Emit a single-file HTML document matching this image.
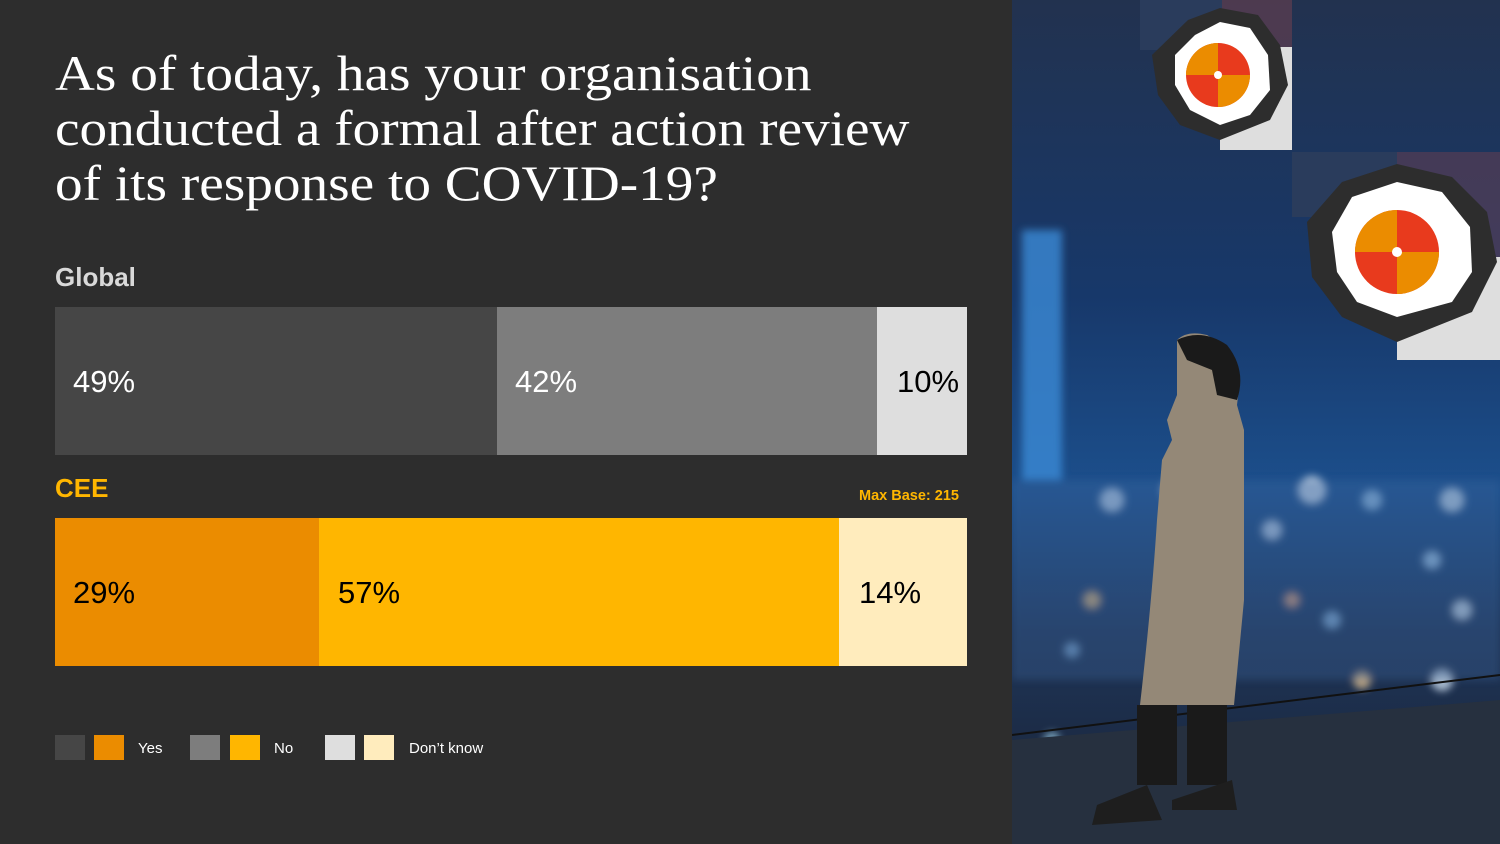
<!DOCTYPE html>
<html><head><style>
body{margin:0;width:1500px;height:844px;background:#2d2d2d;position:relative;overflow:hidden;font-family:"Liberation Sans",sans-serif}
.a{position:absolute}
h1{position:absolute;left:55px;top:46px;margin:0;font-family:"Liberation Serif",serif;font-weight:normal;font-size:50px;line-height:55px;color:#fff;transform:scaleX(1.105);transform-origin:0 0;white-space:nowrap}
.lbl{font-size:31px;color:#fff;line-height:150px}
.lg{width:30px;height:25px;top:735px}
.lt{top:740px;font-size:15px;color:#fff}
</style></head><body>
<h1>As of today, has your organisation<br>conducted a formal after action review<br>of its response to COVID-19?</h1>
<div class="a" style="left:55px;top:262px;font-size:26px;font-weight:bold;color:#d9d9d9">Global</div>
<div class="a" style="left:55px;top:307px;width:442px;height:148px;background:#464646"><span class="a lbl" style="left:18px">49%</span></div>
<div class="a" style="left:497px;top:307px;width:380px;height:148px;background:#7d7d7d"><span class="a lbl" style="left:18px">42%</span></div>
<div class="a" style="left:877px;top:307px;width:90px;height:148px;background:#dedede"><span class="a lbl" style="left:20px;color:#000">10%</span></div>
<div class="a" style="left:55px;top:473px;font-size:26px;font-weight:bold;color:#ffb600">CEE</div>
<div class="a" style="left:859px;top:488px;font-size:14.5px;font-weight:bold;color:#ffb600">Max Base: 215</div>
<div class="a" style="left:55px;top:518px;width:264px;height:148px;background:#eb8c00"><span class="a lbl" style="left:18px;color:#000">29%</span></div>
<div class="a" style="left:319px;top:518px;width:520px;height:148px;background:#ffb600"><span class="a lbl" style="left:19px;color:#000">57%</span></div>
<div class="a" style="left:839px;top:518px;width:128px;height:148px;background:#ffecbd"><span class="a lbl" style="left:20px;color:#000">14%</span></div>
<div class="a lg" style="left:55px;background:#464646"></div>
<div class="a lg" style="left:94px;background:#eb8c00"></div>
<div class="a lt" style="left:138px">Yes</div>
<div class="a lg" style="left:190px;background:#7d7d7d"></div>
<div class="a lg" style="left:230px;background:#ffb600"></div>
<div class="a lt" style="left:274px">No</div>
<div class="a lg" style="left:325px;background:#dedede"></div>
<div class="a lg" style="left:364px;background:#ffecbd"></div>
<div class="a lt" style="left:409px">Don’t know</div>

<svg class="a" style="left:1012px;top:0" width="488" height="844" viewBox="0 0 488 844">
<defs>
<linearGradient id="sky" x1="0" y1="0" x2="0" y2="1">
<stop offset="0" stop-color="#22324f"/><stop offset="0.35" stop-color="#17386a"/><stop offset="0.58" stop-color="#1c4f8c"/><stop offset="0.75" stop-color="#1e3558"/><stop offset="1" stop-color="#1a2234"/></linearGradient>
<filter id="bl"><feGaussianBlur stdDeviation="4"/></filter>
</defs>
<rect width="488" height="844" fill="url(#sky)"/>
<g filter="url(#bl)" opacity="0.8">
<rect x="10" y="230" width="40" height="250" fill="#3a8ad6"/>
<circle cx="100" cy="500" r="12" fill="#c9d9ee"/><circle cx="160" cy="490" r="10" fill="#d7e6f5"/><circle cx="300" cy="490" r="14" fill="#dce7f3"/>
<circle cx="360" cy="500" r="10" fill="#9ec5e9"/><circle cx="440" cy="500" r="12" fill="#d0dff0"/><circle cx="260" cy="530" r="10" fill="#c8d7ee"/>
<circle cx="420" cy="560" r="9" fill="#aacff0"/><circle cx="320" cy="620" r="9" fill="#8cb6e0"/><circle cx="450" cy="610" r="10" fill="#d6e3f2"/>
<circle cx="80" cy="600" r="9" fill="#e7b878"/><circle cx="280" cy="600" r="8" fill="#e6a27a"/><circle cx="60" cy="650" r="8" fill="#7fa9d4"/>
<circle cx="350" cy="680" r="9" fill="#e0c090"/><circle cx="430" cy="680" r="11" fill="#d0e1f2"/><circle cx="40" cy="740" r="8" fill="#90c0d8"/>
<rect x="0" y="480" width="488" height="200" fill="#3f6a9e" opacity="0.4"/>
</g>
<polygon points="0,740 488,700 488,844 0,844" fill="#26303f"/>
<line x1="0" y1="735" x2="488" y2="675" stroke="#111" stroke-width="2"/>
<path d="M165,340 Q175,330 195,335 Q215,345 228,380 L225,405 L232,430 L232,600 L222,705 L128,705 Q140,600 145,520 L150,460 L160,440 L155,420 L165,395 Z" fill="#948877"/>
<path d="M165,340 Q190,328 215,345 Q235,370 225,400 L205,395 L200,370 L175,360 Z" fill="#1a1a1a"/>
<rect x="125" y="705" width="40" height="80" fill="#1a1a1a"/><rect x="175" y="705" width="40" height="80" fill="#1a1a1a"/>
<path d="M85,805 L135,785 L150,820 L80,825 Z" fill="#1e1e1e"/><path d="M160,800 L220,780 L225,810 L160,810 Z" fill="#1e1e1e"/>
<g transform="translate(128,0)">
<rect x="0" y="0" width="82" height="50" fill="#2a3c5c"/>
<rect x="82" y="0" width="70" height="48" fill="#6b4050" opacity="0.6"/>
<rect x="80" y="47" width="72" height="103" fill="#dedede"/>
<polygon points="48,20 80,8 118,15 140,45 148,85 130,120 80,140 40,125 18,95 12,55" fill="#2d2d2d"/>
<polygon points="55,35 80,22 110,28 128,55 130,90 110,115 80,125 50,110 35,85 35,55" fill="#fff"/>
<circle cx="78" cy="75" r="32" fill="#e83a1d"/>
<path d="M78,75 L110,75 A32,32 0 0 1 78,107 Z M78,75 L46,75 A32,32 0 0 1 78,43 Z" fill="#eb8c00"/>
<circle cx="78" cy="75" r="4" fill="#fff"/>
</g>
<g transform="translate(280,152)">
<rect x="0" y="0" width="105" height="65" fill="#2a3c5c"/>
<rect x="105" y="0" width="103" height="105" fill="#6b4050" opacity="0.5"/>
<rect x="105" y="105" width="103" height="103" fill="#dedede"/>
<polygon points="50,30 105,12 160,25 195,60 205,110 180,160 105,190 50,165 20,125 15,70" fill="#2d2d2d"/>
<polygon points="60,45 105,30 150,40 178,75 180,120 160,150 105,165 65,150 45,120 40,80" fill="#fff"/>
<circle cx="105" cy="100" r="42" fill="#e83a1d"/>
<path d="M105,100 L147,100 A42,42 0 0 1 105,142 Z M105,100 L63,100 A42,42 0 0 1 105,58 Z" fill="#eb8c00"/>
<circle cx="105" cy="100" r="5" fill="#fff"/>
</g>
</svg>
</body></html>
